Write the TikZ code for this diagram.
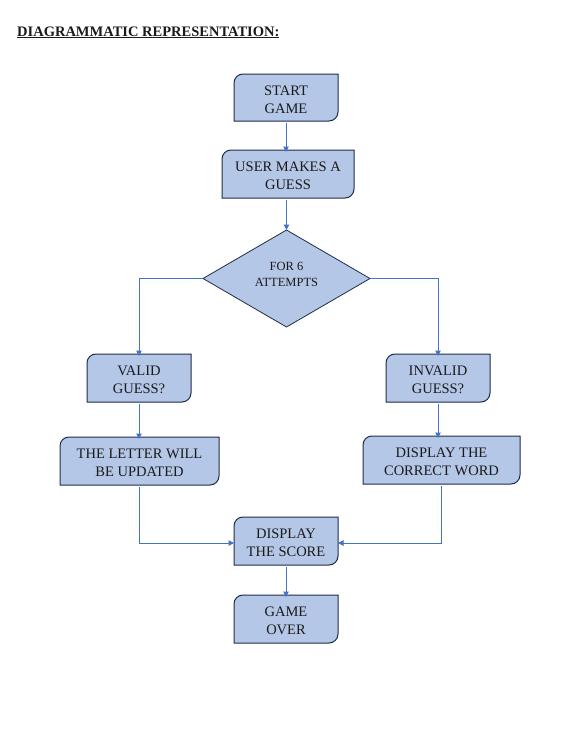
\documentclass[tikz,border=0pt]{standalone}
\usepackage{fontspec}
\setmainfont{Liberation Serif}
\usetikzlibrary{shapes.geometric,arrows.meta}
\definecolor{boxfill}{HTML}{B4C7E7}
\definecolor{boxline}{HTML}{1F2D4A}
\definecolor{arrowc}{HTML}{4472C4}
\definecolor{txt}{HTML}{1A1A1A}
\tikzset{
  boxshape/.style={fill=boxfill, draw=boxline, line width=1pt},
  boxtext/.style={inner sep=0pt, outer sep=0pt, align=center, text=txt, font=\rmfamily\fontsize{14.5}{18}\selectfont},
  decision/.style={diamond, fill=boxfill, draw=boxline, line width=0.8pt, inner sep=0pt, outer sep=0pt,
    minimum width=167pt, minimum height=97pt},
  dectext/.style={inner sep=0pt, align=center, text=txt, font=\rmfamily\fontsize{12.5}{16}\selectfont},
  conn/.style={draw=arrowc, line width=1pt, -{Triangle[length=5.5pt,width=5.5pt]}},
}
\newcommand\fbx[6]{%
  \pgfmathsetmacro\Lx{#2-#4/2}%
  \pgfmathsetmacro\Rx{#2+#4/2}%
  \pgfmathsetmacro\Ty{#3-#5/2}%
  \pgfmathsetmacro\By{#3+#5/2}%
  \draw[boxshape] (\Lx,\By) -- (\Lx,\Ty+9) .. controls (\Lx,\Ty+4) and (\Lx+4,\Ty) .. (\Lx+9,\Ty)
     -- (\Rx,\Ty) -- (\Rx,\By-9) .. controls (\Rx,\By-4) and (\Rx-4,\By) .. (\Rx-9,\By) -- cycle;
  \node[boxtext, minimum width=#4pt, minimum height=#5pt, text depth=0pt, yshift=-2pt] (#1) at (#2,#3) {#6};
}
\begin{document}
\begin{tikzpicture}[x=1pt,y=-1pt]
\useasboundingbox (0,0) rectangle (563,731);
\node[anchor=base west, inner sep=0pt, text=txt, font=\rmfamily\fontsize{14.5}{18}\selectfont] (title) at (17,36) {\underline{\textbf{DIAGRAMMATIC REPRESENTATION:}}};
\fbx{start}{286}{97.5}{104}{47}{START\\GAME}
\fbx{guess}{288}{174}{132}{48}{USER MAKES A\\GUESS}
\node[decision] (loop) at (286.5,278.5) {};
\node[dectext] (looptext) at (286.5,274) {FOR 6\\ATTEMPTS};
\fbx{valid}{139}{378}{104}{48}{VALID\\GUESS?}
\fbx{invalid}{438}{378}{104}{48}{INVALID\\GUESS?}
\fbx{letter}{139.5}{461}{159}{48}{THE LETTER WILL\\BE UPDATED}
\fbx{correct}{441.5}{460}{157}{48}{DISPLAY THE\\CORRECT WORD}
\fbx{score}{286}{541}{104}{48}{DISPLAY\\THE SCORE}
\fbx{over}{286}{619}{104}{48}{GAME\\OVER}
\draw[conn] (start.south) -- (start.south |- guess.north);
\draw[conn] (loop.north |- guess.south) -- (loop.north);
\draw[conn] (loop.west) -| (valid.north);
\draw[conn] (loop.east) -| (invalid.north);
\draw[conn] (valid.south) -- (valid.south |- letter.north);
\draw[conn] (invalid.south) -- (invalid.south |- correct.north);
\draw[conn] (letter.south) |- (score.west);
\draw[conn] (correct.south) |- (score.east);
\draw[conn] (score.south) -- (over.north);
\end{tikzpicture}
\end{document}
